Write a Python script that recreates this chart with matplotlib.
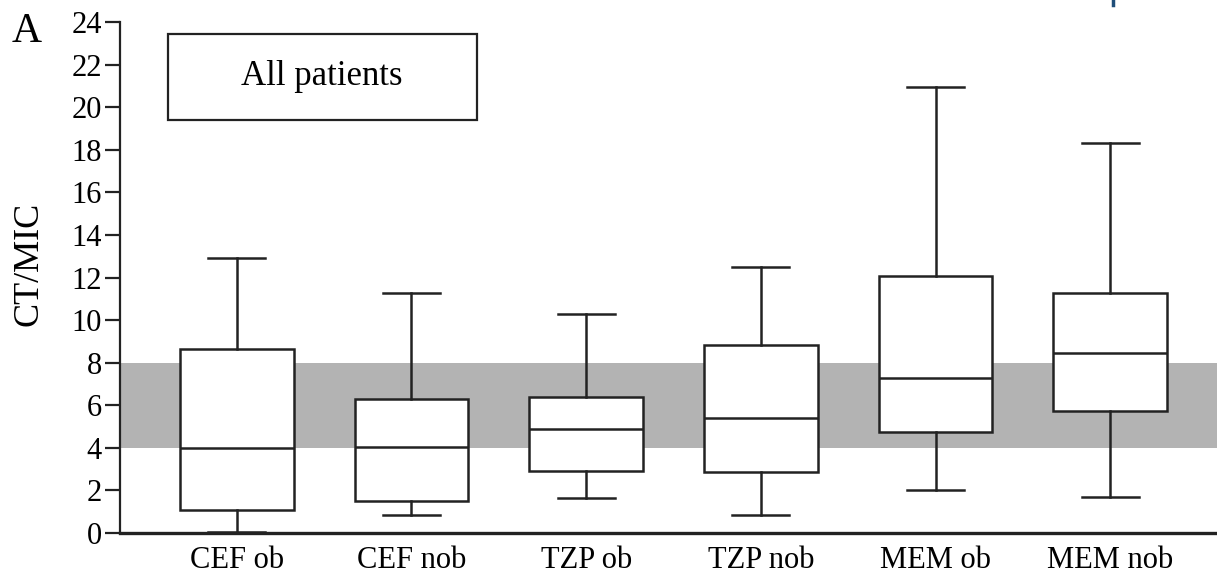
import numpy as np
import matplotlib
matplotlib.use("Agg")
import matplotlib.pyplot as plt
from matplotlib.patches import Rectangle
from matplotlib.lines import Line2D

plt.rcParams['font.family'] = ['Liberation Serif', 'DejaVu Serif']

# box plot summaries
groups = ["CEF ob", "CEF nob", "TZP ob", "TZP nob", "MEM ob", "MEM nob"]
whislo = [0.05, 0.85, 1.65, 0.85, 2.0, 1.7]
q1 = [1.1, 1.5, 2.9, 2.85, 4.75, 5.75]
med = [4.0, 4.05, 4.9, 5.4, 7.3, 8.45]
q3 = [8.65, 6.3, 6.4, 8.85, 12.05, 11.25]
whishi = [12.9, 11.25, 10.3, 12.5, 20.95, 18.3]
target_lo, target_hi = 4, 8
yticks = list(range(0, 25, 2))

stats = []
for i in range(len(groups)):
    stats.append(dict(label=groups[i], whislo=whislo[i], q1=q1[i], med=med[i],
                      q3=q3[i], whishi=whishi[i], fliers=[]))

fig = plt.figure(figsize=(12.17, 5.74), dpi=100)
ax = fig.add_axes([120/1217, 1 - 533/574, 1 - 120/1217, (533 - 22)/574])

# therapeutic band
ax.axhspan(target_lo, target_hi, color="#b3b3b3", lw=0, zorder=0)

lw = 1.8
ax.bxp(stats, positions=np.arange(1, 7), widths=0.65, showfliers=False,
       patch_artist=True,
       boxprops=dict(facecolor="white", edgecolor="#222222", linewidth=lw),
       medianprops=dict(color="#222222", linewidth=lw),
       whiskerprops=dict(color="#222222", linewidth=lw),
       capprops=dict(color="#222222", linewidth=lw))

ax.set_xlim(1 - (237 - 120)/175, 6 + (1217 - 1110)/175)
ax.set_ylim(0, 24)
ax.set_yticks(yticks)
ax.set_xticks(np.arange(1, 7))
ax.set_xticklabels(groups)
ax.tick_params(axis='y', labelsize=22, length=11, width=1.6, color="#222222", pad=2)
ax.tick_params(axis='x', labelsize=22, length=0, pad=9)
for s in ["top", "right"]:
    ax.spines[s].set_visible(False)
ax.spines["left"].set_linewidth(1.6)
ax.spines["bottom"].set_linewidth(2.4)
ax.spines["left"].set_color("#222222")
ax.spines["bottom"].set_color("#222222")
ax.set_ylabel("CT/MIC", fontsize=26)
ax.yaxis.set_label_coords(-0.068, 0.526)

# legend-like box
ax.add_patch(Rectangle((0.0438, 0.808), 0.2815, 0.1685, transform=ax.transAxes,
                       fill=False, edgecolor="#222222", lw=1.6, clip_on=False))
ax.text(0.184, 0.893, "All patients", transform=ax.transAxes, fontsize=25,
        ha="center", va="center")

fig.text(12/1217, 1 - 32/574, "A", fontsize=30, ha="left", va="center")
fig.add_artist(Line2D([1113/1217, 1113/1217], [1.0, 1 - 5/574],
                      transform=fig.transFigure, color="#1f4e79", lw=2.5))

fig.savefig("out.png", dpi=100)
